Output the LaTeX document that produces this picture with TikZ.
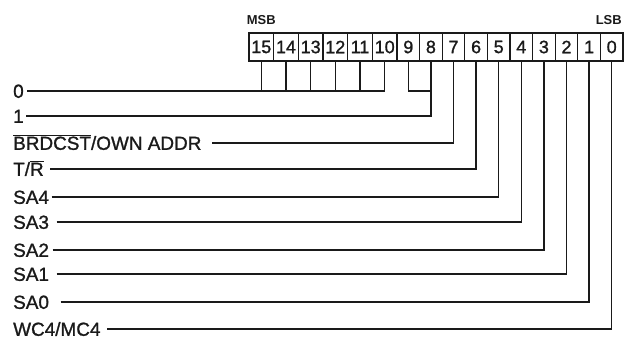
\documentclass[tikz,border=0pt]{standalone}
\usepackage{fontspec}
\setmainfont{Liberation Sans}
\newfontfamily\heavysans[FakeBold=1.2]{Liberation Sans}
\usepackage{xcolor}
\definecolor{ink}{HTML}{1A1A1A}
\usepackage{tikz}
\usetikzlibrary{positioning}
\newcommand{\barred}[1]{\leavevmode\vbox{\hrule height 1.2bp\kern0.6bp\hbox{#1}}}

\begin{document}
\begin{tikzpicture}[
  x=1bp, y=-1bp,
  bit/.style={draw=ink, line width=1.3bp, minimum height=28bp, inner sep=0pt,
              text=ink, font=\heavysans\fontsize{18}{18}\selectfont},
  wbit/.style={bit, minimum width=24.67bp},
  nbit/.style={bit, minimum width=22.6bp},
  lbl/.style={anchor=west, inner sep=2.5bp, text=ink, text height=13.6bp, text depth=0bp,
              font=\heavysans\fontsize{19}{19}\selectfont},
  tag/.style={inner sep=0pt, text=ink, text height=9.4bp, text depth=0bp,
              font=\fontsize{13}{13}\selectfont\bfseries},
  wire/.style={draw=ink, line width=1.3bp}
]
  \useasboundingbox (0,0) rectangle (626,339);

  % command word bits
  \node[wbit] (b15) at (261.3,47) {15};
  \node[wbit] (b14) at (286.0,47) {14};
  \node[wbit] (b13) at (310.7,47) {13};
  \node[wbit] (b12) at (335.3,47) {12};
  \node[wbit] (b11) at (360.0,47) {11};
  \node[wbit] (b10) at (384.7,47) {10};
  \node[nbit] (b9)  at (408.3,47) {9};
  \node[nbit] (b8)  at (430.9,47) {8};
  \node[nbit] (b7)  at (453.5,47) {7};
  \node[nbit] (b6)  at (476.1,47) {6};
  \node[nbit] (b5)  at (498.7,47) {5};
  \node[nbit] (b4)  at (521.3,47) {4};
  \node[nbit] (b3)  at (543.9,47) {3};
  \node[nbit] (b2)  at (566.5,47) {2};
  \node[nbit] (b1)  at (589.1,47) {1};
  \node[nbit] (b0)  at (611.7,47) {0};

  \node[tag, above=8bp of b15] (msb) {MSB};
  \node[tag, above=8bp of b0, xshift=-3bp] (lsb) {LSB};

  % field names
  \node[lbl] (l0)    at (10.5,91)  {0\kern1bp};
  \node[lbl] (l1)    at (10.5,116) {1};
  \node[lbl] (lbc)   at (10.5,143) {\barred{BRDCST}/OWN ADDR\kern8bp};
  \node[lbl] (ltr)   at (10.5,169) {T/\barred{R}\kern4bp};
  \node[lbl] (lsa4)  at (10.5,197) {SA4};
  \node[lbl] (lsa3)  at (10.5,222) {SA3\kern5bp};
  \node[lbl] (lsa2)  at (10.5,250) {SA2\kern1bp};
  \node[lbl] (lsa1)  at (10.5,274) {SA1\kern5bp};
  \node[lbl] (lsa0)  at (10.5,302) {SA0\kern9bp};
  \node[lbl] (lwc)   at (10.5,329) {WC4/MC4\kern4bp};

  % bits 15..10 tied together
  \draw[wire] (b15.south) -- (b15.south |- l0.east);
  \draw[wire] (b14.south) -- (b14.south |- l0.east);
  \draw[wire] (b13.south) -- (b13.south |- l0.east);
  \draw[wire] (b12.south) -- (b12.south |- l0.east);
  \draw[wire] (b11.south) -- (b11.south |- l0.east);
  \draw[wire] (l0.east) -- (b10.south |- l0.east) -- (b10.south);

  % bits 9 and 8 tied together
  \draw[wire] (b9.south) -- (b9.south |- l0.east) -- (b8.south |- l0.east);
  \draw[wire] (l1.east) -- (b8.south |- l1.east) -- (b8.south);

  \draw[wire] (lbc.east)  -- (b7.south |- lbc.east)  -- (b7.south);
  \draw[wire] (ltr.east)  -- (b6.south |- ltr.east)  -- (b6.south);
  \draw[wire] (lsa4.east) -- (b5.south |- lsa4.east) -- (b5.south);
  \draw[wire] (lsa3.east) -- (b4.south |- lsa3.east) -- (b4.south);
  \draw[wire] (lsa2.east) -- (b3.south |- lsa2.east) -- (b3.south);
  \draw[wire] (lsa1.east) -- (b2.south |- lsa1.east) -- (b2.south);
  \draw[wire] (lsa0.east) -- (b1.south |- lsa0.east) -- (b1.south);
  \draw[wire] (lwc.east)  -- (b0.south |- lwc.east)  -- (b0.south);
\end{tikzpicture}
\end{document}
